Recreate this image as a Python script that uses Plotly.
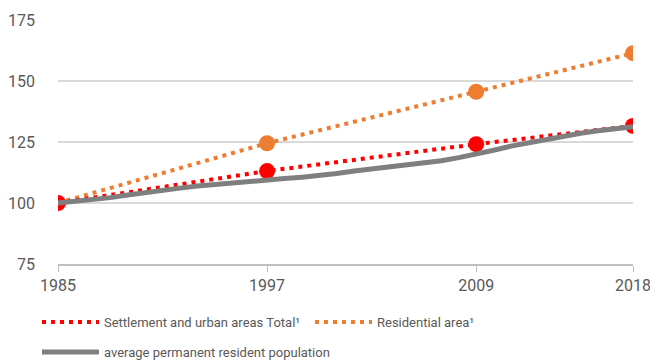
import plotly.graph_objects as go

years_pts = [1985, 1997, 2009, 2018]
settlement = [100, 113.1, 124.1, 131.6]
residential = [100, 124.5, 145.6, 161.4]

pop_years = list(range(1985, 2019))
population = [100, 100.6, 101.3, 102.2, 103.3, 104.4, 105.3, 106.1, 107.0, 107.7,
              108.4, 109.0, 109.4, 110.0, 110.6, 111.2, 112.1, 113.1, 114.0, 114.7,
              115.4, 116.2, 117.3, 118.6, 119.9, 121.6, 123.3, 124.7, 126.1, 127.4,
              128.6, 129.6, 130.5, 131.3]

x_ticks = [1985, 1997, 2009, 2018]
y_ticks = [75, 100, 125, 150, 175]

RED = "#FF0000"
ORANGE = "#ED7D31"
GRAY = "#7F7F7F"
TXT = "#595959"

fig = go.Figure()
fig.add_trace(go.Scatter(x=years_pts, y=residential, mode="lines",
                         line=dict(color=ORANGE, width=4, dash="4px,5px"),
                         name="Residential area¹", legend="legend2"))
fig.add_trace(go.Scatter(x=years_pts[1:], y=residential[1:], mode="markers",
                         marker=dict(color=ORANGE, size=16), showlegend=False))
fig.add_trace(go.Scatter(x=years_pts, y=settlement, mode="lines",
                         line=dict(color=RED, width=4, dash="4px,5px"),
                         name="Settlement and urban areas Total¹", legend="legend"))
fig.add_trace(go.Scatter(x=years_pts, y=settlement, mode="markers",
                         marker=dict(color=RED, size=16), showlegend=False))
fig.add_trace(go.Scatter(x=pop_years, y=population, mode="lines",
                         line=dict(color=GRAY, width=5),
                         name="average permanent resident population", legend="legend3"))

leg_common = dict(orientation="h", xref="container", yref="container",
                  xanchor="left", yanchor="middle", itemwidth=57,
                  font=dict(family="Roboto", size=13, color=TXT),
                  bgcolor="rgba(0,0,0,0)")

fig.update_layout(
    width=650, height=361,
    margin=dict(l=58, r=17, t=20, b=97, autoexpand=False),
    paper_bgcolor="white", plot_bgcolor="white",
    font=dict(family="Roboto", size=16, color=TXT),
    legend=dict(x=37 / 650, y=1 - 322 / 361, **leg_common),
    legend2=dict(x=310 / 650, y=1 - 322 / 361, **leg_common),
    legend3=dict(x=37 / 650, y=1 - 352 / 361, **leg_common),
    showlegend=True,
)
fig.update_xaxes(range=[1985, 2018], tickvals=x_ticks, showgrid=False, zeroline=False,
                 showline=True, linecolor="#BFBFBF", linewidth=2,
                 ticks="outside", ticklen=6, tickcolor="#BFBFBF", tickwidth=1,
                 ticklabeloverflow="allow",
                 tickfont=dict(size=16, color=TXT))
fig.update_yaxes(range=[75, 175], tickvals=y_ticks, showgrid=True, gridcolor="#D9D9D9",
                 gridwidth=1.5, zeroline=False, showline=False, ticks="",
                 ticklabelstandoff=22,
                 tickfont=dict(size=16, color=TXT))

fig.write_html("out.html")
